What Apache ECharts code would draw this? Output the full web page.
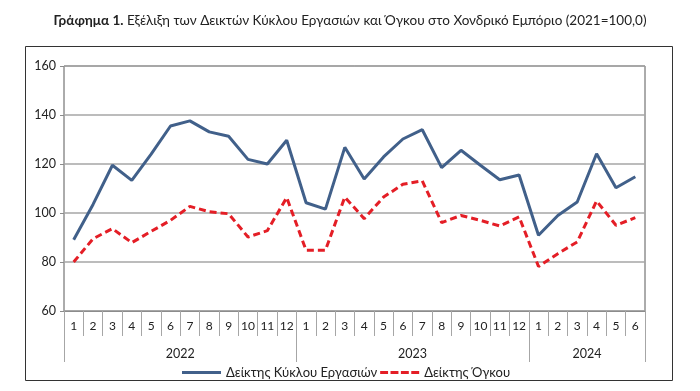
<!DOCTYPE html>
<html>
<head>
<meta charset="utf-8">
<script src="https://cdn.jsdelivr.net/npm/echarts@6/dist/echarts.min.js"></script>
<style>
html,body{margin:0;padding:0;background:#fff;}
#c{width:700px;height:391px;}
</style>
</head>
<body>
<div id="c"></div>
<script>
const months = ['1','2','3','4','5','6','7','8','9','10','11','12',
                '1','2','3','4','5','6','7','8','9','10','11','12',
                '1','2','3','4','5','6'];
const years = ['2022','2023','2024'];
const turnoverName = 'Δείκτης Κύκλου Εργασιών';
const volumeName = 'Δείκτης Όγκου';
const turnover = [89.1,103.5,119.5,113.3,124.0,135.5,137.6,133.1,131.3,121.9,120.0,129.7,
                  104.2,101.6,126.8,113.9,122.9,130.2,134.0,118.5,125.6,119.5,113.6,115.5,
                  90.9,99.0,104.5,124.2,110.3,114.8];
const volume = [80.0,89.5,93.6,87.9,92.5,97.0,102.7,100.5,99.7,90.2,92.8,106.3,
                84.8,84.8,106.5,97.7,106.5,111.7,113.1,96.1,99.0,97.0,94.7,98.4,
                78.2,83.4,88.2,104.9,95.0,98.1];
const yTicks = [60,80,100,120,140,160];

// year boundaries derived from the month labels
const yearStarts = [];
months.forEach((m,i)=>{ if(m==='1') yearStarts.push(i); });
const yearBounds = yearStarts.concat([months.length]);
const yearMids = yearStarts.map((s,i)=>(s+yearBounds[i+1])/2);

const font = 'Lato, "Open Sans", sans-serif';
const chart = echarts.init(document.getElementById('c'), null, {renderer:'canvas'});
chart.setOption({
  animation:false,
  backgroundColor:'#fff',
  title:{
    text:'{b|Γράφημα 1.} Εξέλιξη των Δεικτών Κύκλου Εργασιών και Όγκου στο Χονδρικό Εμπόριο (2021=100,0)',
    left:'center', top:9,
    textStyle:{fontFamily:font,fontSize:13.5,fontWeight:'normal',color:'#222',
      rich:{b:{fontFamily:font,fontSize:13.5,fontWeight:'bold',color:'#222'}}}
  },
  graphic:[{type:'rect',shape:{x:25.5,y:46.5,width:647,height:334},
    style:{fill:'none',stroke:'#333',lineWidth:1},silent:true,z:-1}],
  grid:{left:64,right:55,top:66,bottom:80,show:true,borderColor:'#595959',borderWidth:1,backgroundColor:'transparent'},
  legend:{
    left:177, top:361, itemWidth:39, itemHeight:3, itemGap:3,
    textStyle:{fontFamily:font,fontSize:13,color:'#222'},
    data:[
      {name:turnoverName, icon:'path://M0,0h40v3h-40z'},
      {name:volumeName, icon:'path://M0,0h8v3h-8zM10.5,0h8v3h-8zM21,0h8v3h-8zM31.5,0h8v3h-8z'}
    ]
  },
  xAxis:[{
    type:'category', data:months, boundaryGap:true,
    axisLine:{show:true,lineStyle:{color:'#8c8c8c',width:1}},
    axisTick:{show:true,interval:0,length:25,lineStyle:{color:'#a6a6a6',width:1}},
    axisLabel:{interval:0,margin:9,fontFamily:font,fontSize:12,color:'#222'},
    splitLine:{show:false}
  },{
    type:'value', min:0, max:months.length, position:'bottom',
    axisLine:{show:false},
    axisTick:{show:true,customValues:yearBounds,length:51,lineStyle:{color:'#a6a6a6',width:1}},
    axisLabel:{customValues:yearMids,margin:36,fontFamily:font,fontSize:12.5,color:'#222',
      formatter:(v)=>{const i=yearMids.indexOf(v);return i>=0?years[i]:'';}},
    splitLine:{show:false}
  }],
  yAxis:{
    type:'value', min:yTicks[0], max:yTicks[yTicks.length-1], interval:20,
    axisLine:{show:false},
    axisTick:{show:true,length:4,lineStyle:{color:'#8c8c8c'}},
    axisLabel:{margin:8,fontFamily:font,fontSize:12.5,color:'#222'},
    splitLine:{show:true,lineStyle:{color:'#a6a6a6',width:1.5}}
  },
  series:[{
    name:turnoverName, type:'line', data:turnover, xAxisIndex:0,
    symbol:'none', lineStyle:{color:'#41608A',width:3}, itemStyle:{color:'#41608A'}
  },{
    name:volumeName, type:'line', data:volume, xAxisIndex:0,
    symbol:'none', lineStyle:{color:'#E41E26',width:3,type:[7,4]}, itemStyle:{color:'#E41E26'}
  }]
});
</script>
</body>
</html>
